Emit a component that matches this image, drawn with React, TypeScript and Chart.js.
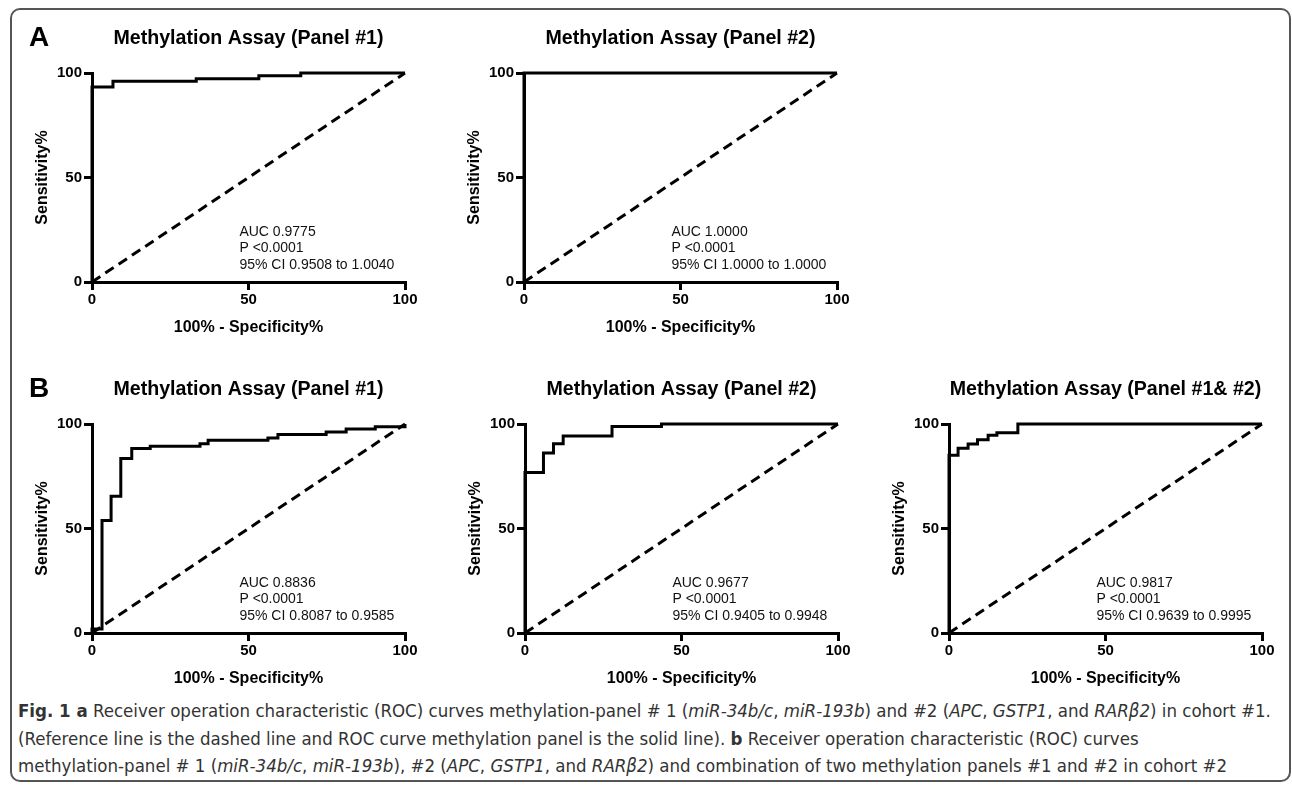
import React, { useEffect, useRef } from "react";
import { Chart, registerables } from "chart.js";

Chart.register(...registerables);

const FONT = '"Liberation Sans", Arial, Helvetica, sans-serif';
const CAPTION_FONT = '"Liberation Sans Narrow", "DejaVu Sans Condensed", "Liberation Sans", sans-serif';

// ---- data ----
const AXIS_TICKS = [0, 50, 100];
const X_TITLE = "100% - Specificity%";
const Y_TITLE = "Sensitivity%";

const REF_FPR = [0, 100];
const REF_TPR = [0, 100];

const A1_FPR = [0, 0, 6.7, 33.3, 53.3, 66.7, 100];
const A1_TPR = [0, 93.3, 96.0, 97.3, 98.7, 100, 100];

const A2_FPR = [0, 0, 100];
const A2_TPR = [0, 100, 100];

const B1_FPR = [0, 0, 3.2, 6.1, 9.2, 12.7, 18.6, 34.5, 37.1, 56.2, 59.4, 74.8, 81.2, 90.5, 100];
const B1_TPR = [0, 1.9, 53.8, 65.4, 83.5, 88.3, 89.4, 90.5, 92.2, 93.3, 95.0, 96.2, 97.6, 98.7, 100];

const B2_FPR = [0, 0, 5.9, 9.1, 12.2, 27.8, 43.6, 100];
const B2_TPR = [0, 76.8, 86.1, 90.5, 94.2, 98.8, 100, 100];

const B3_FPR = [0, 0, 2.9, 6.1, 9.1, 12.5, 15.3, 22.0, 100];
const B3_TPR = [0, 85.0, 88.4, 90.4, 92.5, 94.6, 95.8, 100, 100];

const PANEL_TITLES = [
  "Methylation Assay (Panel #1)",
  "Methylation Assay (Panel #2)",
  "Methylation Assay (Panel #1)",
  "Methylation Assay (Panel #2)",
  "Methylation Assay (Panel #1& #2)",
];
const AUC_TEXT = ["AUC 0.9775", "AUC 1.0000", "AUC 0.8836", "AUC 0.9677", "AUC 0.9817"];
const P_TEXT = ["P <0.0001", "P <0.0001", "P <0.0001", "P <0.0001", "P <0.0001"];
const CI_TEXT = [
  "95% CI 0.9508 to 1.0040",
  "95% CI 1.0000 to 1.0000",
  "95% CI 0.8087 to 0.9585",
  "95% CI 0.9405 to 0.9948",
  "95% CI 0.9639 to 0.9995",
];
const PANEL_LETTERS = ["A", "", "B", "", ""];
const PANEL_FPR = [A1_FPR, A2_FPR, B1_FPR, B2_FPR, B3_FPR];
const PANEL_TPR = [A1_TPR, A2_TPR, B1_TPR, B2_TPR, B3_TPR];

// ---- layout ----
const CANVAS_W = 435;
const CANVAS_H = 344;
const PANEL_POS = [
  { left: 0, top: 0 },
  { left: 432, top: 0 },
  { left: 0, top: 351 },
  { left: 433, top: 351 },
  { left: 857, top: 351 },
];

const panelTextPlugin = {
  id: "panelText",
  afterDraw(chart: any, _args: any, opts: any) {
    const { ctx, chartArea } = chart;
    const { left, right, top, bottom } = chartArea;
    ctx.save();
    ctx.fillStyle = "#000";
    ctx.textBaseline = "middle";
    ctx.textAlign = "center";
    ctx.font = `bold 19.6px ${FONT}`;
    ctx.fillText(opts.title, (left + right) / 2, top - 34.5);
    if (opts.letter) {
      ctx.textAlign = "left";
      ctx.font = `bold 28px ${FONT}`;
      ctx.fillText(opts.letter, 29, top - 34.5);
    }
    ctx.textAlign = "left";
    ctx.font = `14px ${FONT}`;
    ctx.fillStyle = "#111";
    const x = left + 0.471 * (right - left);
    const y0 = top + 0.76 * (bottom - top);
    (opts.lines as string[]).forEach((t, i) => ctx.fillText(t, x, y0 + i * 16.8));
    ctx.restore();
  },
};

function axisOptions(isX: boolean) {
  return {
    type: "linear" as const,
    min: 0,
    max: 100,
    afterBuildTicks: (s: any) => {
      s.ticks = AXIS_TICKS.map((v) => ({ value: v }));
    },
    afterFit: (s: any) => {
      if (isX) s.height = 62;
      else s.width = 92;
    },
    border: { display: true, color: "#000", width: 3 },
    grid: {
      display: true,
      drawOnChartArea: false,
      drawTicks: true,
      tickLength: 8,
      tickWidth: 3,
      tickColor: "#000",
      color: "#000",
      lineWidth: 3,
    },
    ticks: {
      color: "#000",
      font: { family: FONT, size: 15, weight: "bold" as const },
      padding: isX ? 1 : 2,
      maxRotation: 0,
      autoSkip: false,
    },
    title: {
      display: true,
      text: isX ? X_TITLE : Y_TITLE,
      color: "#000",
      font: { family: FONT, size: 16, weight: "bold" as const },
      padding: isX ? { top: 0, bottom: 6.4 } : { top: 33, bottom: 0 },
    },
  };
}

function RocPanel({ index }: { index: number }) {
  const ref = useRef<HTMLCanvasElement | null>(null);
  useEffect(() => {
    if (!ref.current) return;
    const fpr = PANEL_FPR[index];
    const tpr = PANEL_TPR[index];
    const chart = new Chart(ref.current, {
      type: "scatter",
      data: {
        datasets: [
          {
            data: REF_FPR.map((x, i) => ({ x, y: REF_TPR[i] })),
            showLine: true,
            borderColor: "#000",
            borderWidth: 3,
            borderDash: [10, 6],
            pointRadius: 0,
            clip: false as any,
          },
          {
            data: fpr.map((x, i) => ({ x, y: tpr[i] })),
            showLine: true,
            stepped: "before",
            borderColor: "#000",
            borderWidth: 3,
            pointRadius: 0,
            clip: false as any,
          },
        ],
      },
      options: {
        animation: false,
        responsive: false,
        events: [],
        layout: { padding: { left: 0, top: 73, right: 30, bottom: 0 } },
        plugins: {
          legend: { display: false },
          tooltip: { enabled: false },
          title: { display: false },
          panelText: {
            title: PANEL_TITLES[index],
            letter: PANEL_LETTERS[index],
            lines: [AUC_TEXT[index], P_TEXT[index], CI_TEXT[index]],
          },
        } as any,
        scales: {
          x: axisOptions(true) as any,
          y: axisOptions(false) as any,
        },
      },
      plugins: [panelTextPlugin],
    });
    return () => chart.destroy();
  }, [index]);
  const pos = PANEL_POS[index];
  return (
    <canvas
      ref={ref}
      width={CANVAS_W}
      height={CANVAS_H}
      style={{ position: "absolute", left: pos.left, top: pos.top, width: CANVAS_W, height: CANVAS_H }}
    />
  );
}

const captionLine: React.CSSProperties = {
  position: "absolute",
  left: 18,
  fontFamily: CAPTION_FONT,
  fontSize: 18.5,
  lineHeight: "28px",
  color: "#333",
  whiteSpace: "nowrap",
};

export default function App() {
  return (
    <div
      style={{
        position: "absolute",
        left: 0,
        top: 0,
        width: 1292,
        height: 785,
        overflow: "hidden",
        background: "#fff",
      }}
    >
      <div
        style={{
          position: "absolute",
          left: 10,
          top: 8,
          width: 1281,
          height: 774,
          boxSizing: "border-box",
          border: "2px solid #555",
          borderRadius: 10,
        }}
      />
      {PANEL_POS.map((_, i) => (
        <RocPanel key={i} index={i} />
      ))}
      <div style={{ ...captionLine, top: 697 }}>
        <b>Fig. 1 a</b> Receiver operation characteristic (ROC) curves methylation-panel # 1 (<i>miR-34b/c</i>,{" "}
        <i>miR-193b</i>) and #2 (<i>APC</i>, <i>GSTP1</i>, and <i>RARβ2</i>) in cohort #1.
      </div>
      <div style={{ ...captionLine, top: 725 }}>
        (Reference line is the dashed line and ROC curve methylation panel is the solid line). <b>b</b> Receiver
        operation characteristic (ROC) curves
      </div>
      <div style={{ ...captionLine, top: 752 }}>
        methylation-panel # 1 (<i>miR-34b/c</i>, <i>miR-193b</i>), #2 (<i>APC</i>, <i>GSTP1</i>, and <i>RARβ2</i>) and
        combination of two methylation panels #1 and #2 in cohort #2
      </div>
    </div>
  );
}
